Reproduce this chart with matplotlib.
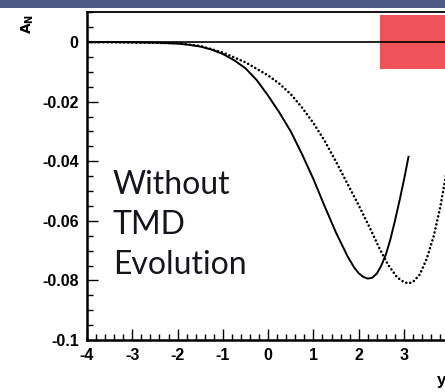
import matplotlib
matplotlib.use("Agg")
import matplotlib.pyplot as plt
from matplotlib.patches import Rectangle
from matplotlib.ticker import FixedLocator, MultipleLocator, FixedFormatter

plt.rcParams["axes.unicode_minus"] = False

# Sivers asymmetry A_N versus rapidity y (no TMD evolution)
y_solid = [-4.0, -3.5, -3.0, -2.5, -2.0, -1.75, -1.5, -1.25, -1.0, -0.75, -0.5,
           -0.25, 0.0, 0.25, 0.5, 0.75, 1.0, 1.25, 1.5, 1.75, 1.9, 2.0, 2.1,
           2.2, 2.3, 2.4, 2.5, 2.6, 2.7, 2.8, 2.9, 3.0, 3.1]
an_solid = [0.0, 0.0, -0.0001, -0.0002, -0.0005, -0.0009, -0.0015, -0.0025,
            -0.0040, -0.0061, -0.0088, -0.0128, -0.0180, -0.0237, -0.0300,
            -0.0377, -0.0460, -0.0552, -0.0640, -0.0718, -0.0757, -0.0776,
            -0.0788, -0.0794, -0.0791, -0.0777, -0.0750, -0.0713, -0.0662,
            -0.0600, -0.0533, -0.0462, -0.0385]

y_dotted = [-4.0, -3.0, -2.0, -1.5, -1.0, -0.5, 0.0, 0.25, 0.5, 0.75, 1.0,
            1.25, 1.5, 1.75, 2.0, 2.25, 2.45, 2.65, 2.85, 3.0, 3.1, 3.2, 3.35,
            3.5, 3.65, 3.8, 3.9, 4.0]
an_dotted = [0.0, -0.0001, -0.0004, -0.0013, -0.0035, -0.0068, -0.0112,
             -0.0140, -0.0175, -0.0220, -0.0272, -0.0332, -0.0402, -0.0475,
             -0.0548, -0.0625, -0.0690, -0.0748, -0.0790, -0.0806, -0.0810,
             -0.0805, -0.0780, -0.0728, -0.0655, -0.0555, -0.0470, -0.0380]

x_ticks = [-4, -3, -2, -1, 0, 1, 2, 3]
x_ticklabels = ["-4", "-3", "-2", "-1", "0", "1", "2", "3"]
y_ticks = [0.0, -0.02, -0.04, -0.06, -0.08, -0.1]
y_ticklabels = ["0", "-0.02", "-0.04", "-0.06", "-0.08", "-0.1"]

fig = plt.figure(figsize=(4.45, 3.92), dpi=100)
fig.patch.set_facecolor("white")

# slide header band
fig.patches.append(Rectangle((0, 1 - 8 / 392), 1, 8 / 392, transform=fig.transFigure,
                             facecolor="#4e5a86", edgecolor="none", zorder=0))

ax = fig.add_axes([0.1955, 0.1327, 0.865, 0.8367])
ax.set_xlim(-4, 4.5)
ax.set_ylim(-0.1, 0.0101)

ax.add_patch(Rectangle((2.47, -0.0091), 3.0, 0.0182, facecolor="#f0525a",
                       edgecolor="none", zorder=1))
ax.axhline(0, color="black", lw=1.2, zorder=2)

ax.plot(y_solid, an_solid, color="black", lw=1.4, zorder=3)
ax.plot(y_dotted, an_dotted, color="black", lw=1.9, linestyle=(0, (0.01, 1.55)),
        dash_capstyle="round", zorder=3)

ax.xaxis.set_major_locator(FixedLocator(x_ticks))
ax.xaxis.set_major_formatter(FixedFormatter(x_ticklabels))
ax.xaxis.set_minor_locator(MultipleLocator(0.2))
ax.yaxis.set_major_locator(FixedLocator(y_ticks))
ax.yaxis.set_major_formatter(FixedFormatter(y_ticklabels))
ax.yaxis.set_minor_locator(MultipleLocator(0.005))

ax.tick_params(which="both", direction="in", top=False, right=False, width=1)
ax.tick_params(which="major", length=8, pad=6)
ax.tick_params(which="minor", length=4.5)
for lab in ax.get_xticklabels() + ax.get_yticklabels():
    lab.set_fontfamily("Liberation Sans")
    lab.set_fontsize(11.5)
    lab.set_fontweight("bold")

ax.spines["left"].set_linewidth(1.8)
ax.spines["bottom"].set_linewidth(1.8)
ax.spines["top"].set_linewidth(1.3)

ax.text(-3.43, -0.0615, "Without\nTMD\nEvolution", fontsize=23, family="Lato",
        color="#15151f", linespacing=1.42, va="center", ha="left", zorder=4)

fig.text(28 / 445, 1 - 24 / 392, r"$\mathbf{A_N}$", rotation=90, fontsize=10,
         ha="center", va="center")
fig.text(437 / 445, 4 / 392, "y", fontsize=12, fontweight="bold",
         family="Liberation Sans", ha="left", va="bottom")

fig.savefig("out.png", dpi=100)
